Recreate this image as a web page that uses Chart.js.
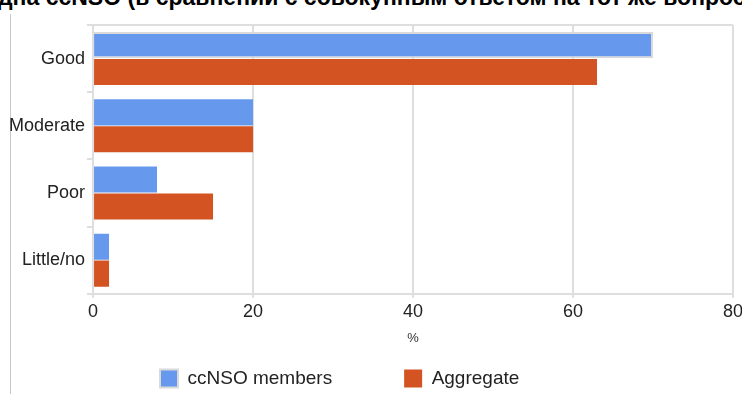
<!DOCTYPE html>
<html>
<head>
<meta charset="utf-8">
<script src="https://cdn.jsdelivr.net/npm/chart.js@4/dist/chart.umd.min.js"></script>
<style>
  html, body { margin: 0; padding: 0; background: #fff; }
  .wrap { position: relative; width: 742px; height: 394px; overflow: hidden; }
  .title-cut {
    position: absolute; left: -2px; top: -16px; white-space: nowrap;
    font: bold 23px "Liberation Sans", Arial, sans-serif; color: #000;
  }
  .side-line { position: absolute; left: 10px; top: 14px; width: 1px; height: 380px; background: #c8c8c8; }
  #chart { position: absolute; left: 0; top: 0; }
</style>
</head>
<body>
<div class="wrap">
  <div class="title-cut">дна ccNSO (в сравнении с совокупным ответом на тот же вопрос)</div>
  <div class="side-line"></div>
  <canvas id="chart" width="742" height="394"></canvas>
</div>
<script>
// data
const categories = ["Good", "Moderate", "Poor", "Little/no"];
const ccnsoMembers = [70, 20, 8, 2];
const aggregate = [63, 20, 15, 2];
const xTicks = [0, 20, 40, 60, 80];

const blue = "#6699ee";
const red = "#d35422";
const gridColor = "#dedede";

// move the legend to where the original had it
const legendPlace = {
    id: "legendPlace",
    afterLayout(chart) {
        let lg = chart.legend;
        let pad = lg.options.labels.padding;
        let x0 = (lg.left + pad + lg.right - lg.lineWidths[0]) / 2;
        let dx = 160 - x0;
        lg.left += dx;
        lg.right += dx;
        lg.top = 369 - pad;
    }
};

var ctx = document.getElementById("chart").getContext("2d");

var myChart = new Chart(ctx, {
    type: "bar",
    data: {
        labels: categories,
        datasets: [
            {
                label: "ccNSO members",
                data: ccnsoMembers,
                backgroundColor: blue,
                borderColor: "#d9d9d9",
                borderWidth: [2, 0, 0, 0],
            },
            {
                label: "Aggregate",
                data: aggregate,
                backgroundColor: red,
                borderWidth: 0,
            },
        ],
    },
    plugins: [legendPlace],
    options: {
        indexAxis: "y",
        responsive: false,
        animation: false,
        datasets: {
            bar: { categoryPercentage: 0.8, barPercentage: 0.97 }
        },
        layout: {
            padding: { left: 7, right: 9, top: 25, bottom: 0 }
        },
        scales: {
            x: {
                min: 0,
                max: 80,
                afterBuildTicks: (axis) => { axis.ticks = xTicks.map(v => ({ value: v })); },
                afterFit: (axis) => { axis.paddingRight = 0; },
                grid: { color: gridColor, lineWidth: 2, tickLength: 4, tickColor: gridColor },
                border: { color: gridColor, width: 2 },
                ticks: {
                    color: "#222",
                    padding: 3,
                    font: { family: "'Liberation Sans', Arial, sans-serif", size: 18 }
                },
                title: {
                    display: true,
                    text: "%",
                    color: "#333",
                    padding: { top: 5, bottom: 0 },
                    font: { family: "'Liberation Sans', Arial, sans-serif", size: 13 }
                }
            },
            y: {
                grid: {
                    color: (c) => (c.index === 0 || c.index === categories.length) ? gridColor : "rgba(0,0,0,0)",
                    tickColor: gridColor,
                    lineWidth: 2,
                    tickLength: 6,
                },
                border: { color: gridColor, width: 2 },
                ticks: {
                    color: "#222",
                    padding: 2,
                    font: { family: "'Liberation Sans', Arial, sans-serif", size: 18 }
                }
            }
        },
        plugins: {
            legend: {
                position: "bottom",
                maxHeight: 48,
                labels: {
                    boxWidth: 18,
                    boxHeight: 18,
                    padding: 72,
                    color: "#222",
                    font: { family: "'Liberation Sans', Arial, sans-serif", size: 19 }
                }
            },
            tooltip: { enabled: false }
        }
    },
});
</script>
</body>
</html>
